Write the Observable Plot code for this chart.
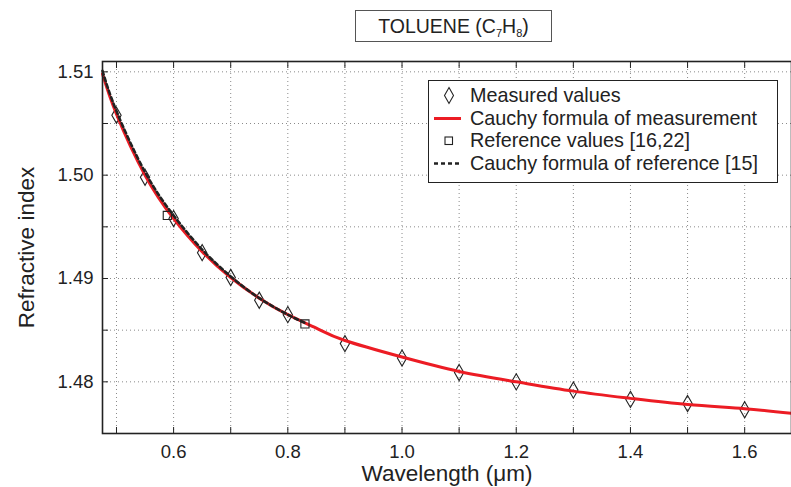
<!DOCTYPE html>
<html><head><meta charset="utf-8">
<script src="https://cdn.jsdelivr.net/npm/d3@7"></script>
<script src="https://cdn.jsdelivr.net/npm/@observablehq/plot@0.6"></script>
<style>
body{margin:0;background:#fff;font-family:"Liberation Sans",Arial,Helvetica,sans-serif;color:#222;}
#wrap{position:relative;width:791px;height:487px;overflow:hidden;}
#title{position:absolute;left:355px;top:10px;width:195px;height:30px;border:1.5px solid #555;background:#fff;
  font-size:19.5px;line-height:30px;text-align:center;color:#222;}
#title sub{font-size:11px;vertical-align:-4px;line-height:0;}
#legend{position:absolute;left:428px;top:80px;width:348px;height:98px;border:1.5px solid #222;background:#fff;padding-top:3px;box-sizing:content-box;}
.row{position:relative;height:22.7px;}
.row svg{position:absolute;left:0;top:0;}
.row span{position:absolute;left:41px;top:0;line-height:22.7px;font-size:19.8px;color:#222;white-space:nowrap;}
</style></head>
<body>
<div id="wrap">
  <div id="chart"></div>
  <div id="title">TOLUENE (C<sub>7</sub>H<sub>8</sub>)</div>
  <div id="legend"></div>
</div>
<script>
// ---- data ----
const measuredWavelength = [0.50, 0.55, 0.60, 0.65, 0.70, 0.75, 0.80, 0.90, 1.00, 1.10, 1.20, 1.30, 1.40, 1.50, 1.60];
const measuredIndex      = [1.5058, 1.4998, 1.4958, 1.4925, 1.4901, 1.4879, 1.4865, 1.4837, 1.4823, 1.4809, 1.4800, 1.4792, 1.4783, 1.4779, 1.4773];

const cauchyMeasWavelength = [0.4755, 0.50, 0.55, 0.60, 0.65, 0.70, 0.75, 0.80, 0.85, 0.90, 1.00, 1.10, 1.20, 1.30, 1.40, 1.50, 1.60, 1.682];
const cauchyMeasIndex      = [1.5098, 1.5059, 1.5000, 1.4958, 1.4926, 1.4901, 1.4881, 1.4865, 1.4852, 1.4840, 1.4824, 1.4810, 1.4800, 1.4791, 1.4784, 1.4778, 1.4774, 1.47695];

const refWavelength = [0.589, 0.830];
const refIndex      = [1.4961, 1.4856];

const cauchyRefWavelength = [0.4755, 0.50, 0.55, 0.60, 0.65, 0.70, 0.75, 0.80, 0.83];
const cauchyRefIndex      = [1.5101, 1.5062, 1.5003, 1.4961, 1.4928, 1.4902, 1.4881, 1.4865, 1.4857];

const xMinorTicks = [0.5, 0.6, 0.7, 0.8, 0.9, 1.0, 1.1, 1.2, 1.3, 1.4, 1.5, 1.6];
const xLabelTicks = [0.6, 0.8, 1.0, 1.2, 1.4, 1.6];
const yMinorTicks = [1.475, 1.48, 1.485, 1.49, 1.495, 1.50, 1.505, 1.51];
const yLabelTicks = [1.48, 1.49, 1.50, 1.51];

const legendItems = ["Measured values", "Cauchy formula of measurement", "Reference values [16,22]", "Cauchy formula of reference [15]"];

// ---- tables ----
const measured = measuredWavelength.map((x, i) => ({x, y: measuredIndex[i]}));
const cauchyMeas = cauchyMeasWavelength.map((x, i) => ({x, y: cauchyMeasIndex[i]}));
const reference = refWavelength.map((x, i) => ({x, y: refIndex[i]}));
const cauchyRef = cauchyRefWavelength.map((x, i) => ({x, y: cauchyRefIndex[i]}));

const RED = "#ec1c24";
const INK = "#222";

const chart = Plot.plot({
  width: 791, height: 487,
  marginLeft: 102, marginRight: 0, marginTop: 61, marginBottom: 54,
  style: {fontFamily: "'Liberation Sans', Arial, sans-serif", color: INK, background: "#fff"},
  x: {domain: [0.4755, 1.682]},
  y: {domain: [1.475, 1.511]},
  marks: [
    Plot.gridX(xMinorTicks, {stroke: "#8a8a8a", strokeOpacity: 1, strokeDasharray: "1,3"}),
    Plot.gridY(yMinorTicks, {stroke: "#8a8a8a", strokeOpacity: 1, strokeDasharray: "1,3"}),
    Plot.axisX(xMinorTicks, {anchor: "bottom", tickSize: -6, tickFormat: () => "", label: null, stroke: INK}),
    Plot.axisX(xMinorTicks, {anchor: "top", tickSize: -6, tickFormat: () => "", label: null, stroke: INK}),
    Plot.axisY(yMinorTicks, {anchor: "left", tickSize: -6, tickFormat: () => "", label: null, stroke: INK}),
    Plot.axisX(xLabelTicks, {anchor: "bottom", tickSize: 0, tickPadding: 11, tickFormat: d3.format(".1f"),
      fontSize: 18.5, label: "Wavelength (μm)", labelAnchor: "center", labelArrow: "none", labelOffset: 47}),
    Plot.axisY(yLabelTicks, {anchor: "left", tickSize: 0, tickPadding: 9, tickFormat: d3.format(".2f"),
      fontSize: 18.5, label: "Refractive index", labelAnchor: "center", labelArrow: "none", labelOffset: 84}),
    Plot.dot(measured, {x: "x", y: "y", symbol: "diamond", r: 4.9, stroke: INK, strokeWidth: 1.1, fill: "none"}),
    Plot.line(cauchyMeas, {x: "x", y: "y", stroke: RED, strokeWidth: 3, curve: "natural"}),
    Plot.dot(reference, {x: "x", y: "y", symbol: "square", r: 4.6, stroke: INK, strokeWidth: 1.1, fill: "none"}),
    Plot.line(cauchyRef, {x: "x", y: "y", stroke: INK, strokeWidth: 2.6, strokeDasharray: "4,3", curve: "natural"}),
    Plot.frame({stroke: INK, strokeWidth: 1.6})
  ]
});
// axis title font size
chart.querySelectorAll("text").forEach(t => {
  if (t.textContent === "Wavelength (μm)" || t.textContent === "Refractive index") t.setAttribute("font-size", "22.5");
});
document.getElementById("chart").appendChild(chart);

// ---- legend (HTML overlay) ----
const legend = document.getElementById("legend");
const glyphs = [
  `<svg width="40" height="23"><path d="M20,3.5 L24.5,11.5 L20,19.5 L15.5,11.5 Z" fill="none" stroke="${INK}" stroke-width="1.1"/></svg>`,
  `<svg width="40" height="23"><line x1="5" y1="11.5" x2="32" y2="11.5" stroke="${RED}" stroke-width="3"/></svg>`,
  `<svg width="40" height="23"><rect x="16" y="8" width="7.5" height="7.5" fill="none" stroke="${INK}" stroke-width="1.1"/></svg>`,
  `<svg width="40" height="23"><line x1="5" y1="11.5" x2="32" y2="11.5" stroke="${INK}" stroke-width="2.6" stroke-dasharray="4,3"/></svg>`
];
legendItems.forEach((name, i) => {
  const row = document.createElement("div");
  row.className = "row";
  row.innerHTML = glyphs[i] + `<span>${name}</span>`;
  legend.appendChild(row);
});
</script>
</body></html>
